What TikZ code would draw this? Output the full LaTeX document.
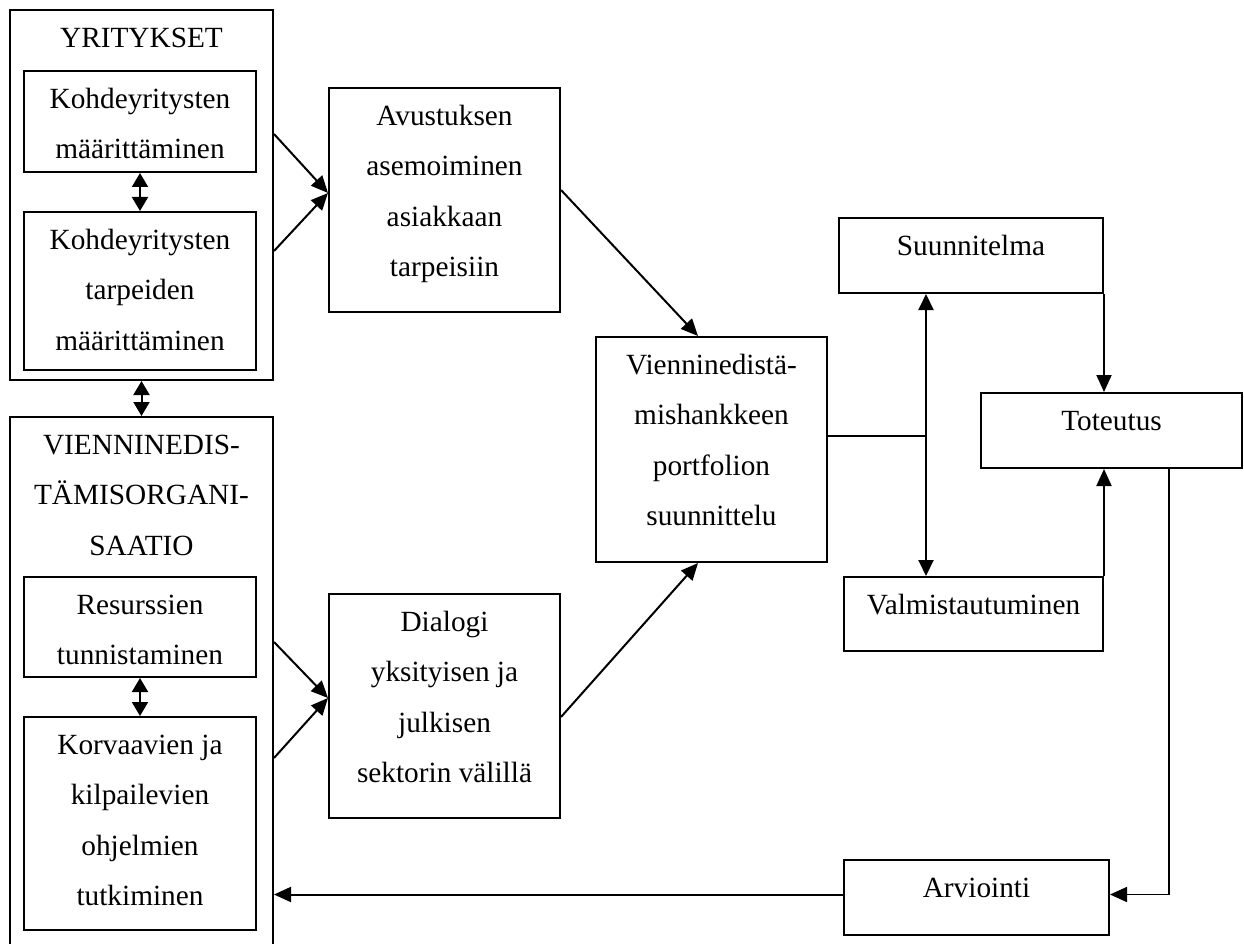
\documentclass[tikz,border=0pt]{standalone}
\usepackage{fontspec}
\setmainfont{Liberation Serif}
\usetikzlibrary{arrows.meta,calc}
\begin{document}
\begin{tikzpicture}[x=1pt,y=-1pt,
  bx/.style 2 args={draw,line width=2pt,inner sep=0pt,minimum width=#1,minimum height=#2},
  lbl/.style={font=\fontsize{29.3}{50.5}\selectfont,align=center,inner sep=0pt,anchor=north},
  arr/.style={line width=2pt,-{Triangle[length=17pt,width=15pt]}},
  tharr/.style={line width=1.6pt,-{Triangle[length=17pt,width=15pt]}},
  darr/.style={line width=2pt,{Triangle[length=14pt,width=16pt]}-{Triangle[length=14pt,width=16pt]}},
  larr/.style={line width=2pt,{Triangle[length=16pt,width=15pt]}-{Triangle[length=16pt,width=15pt]}},
  thinl/.style={line width=1.6pt}
]
\useasboundingbox (0,0) rectangle (1244,944);
\fill[white] (0,0) rectangle (1244,944);

% boxes
\node[bx={263pt}{370pt}] (yrit) at (141.5,195) {};
\node[bx={232pt}{101pt}] (kohde1) at (140,121.5) {};
\node[bx={232pt}{158pt}] (kohde2) at (140,291) {};
\node[bx={263pt}{533pt}] (vienorg) at (141.5,683.5) {};
\node[bx={232pt}{100pt}] (resurs) at (140,627) {};
\node[bx={232pt}{213pt}] (korv) at (140,823.5) {};
\node[bx={231pt}{224pt}] (avust) at (444.5,200) {};
\node[bx={231pt}{224pt}] (dialogi) at (444.5,706) {};
\node[bx={231pt}{225pt}] (viennin) at (711.5,449.5) {};
\node[bx={264pt}{75pt}] (suunn) at (971,255.5) {};
\node[bx={261pt}{75pt}] (toteutus) at (1111.5,430.5) {};
\node[bx={259pt}{74pt}] (valmist) at (973.5,614) {};
\node[bx={265pt}{75pt}] (arvi) at (976.5,897.5) {};

% texts
\node[lbl] (tyrit) at ($(yrit.north)+(0,2.5)$) {\strut YRITYKSET};
\node[lbl] (tkohde1) at ($(kohde1.north)+(0,2.5)$) {\strut Kohdeyritysten\\määrittäminen};
\node[lbl] (tkohde2) at ($(kohde2.north)+(0,2.5)$) {\strut Kohdeyritysten\\tarpeiden\\määrittäminen};
\node[lbl] (tvienorg) at ($(vienorg.north)+(0,2.5)$) {\strut VIENNINEDIS-\\TÄMISORGANI-\\SAATIO};
\node[lbl] (tresurs) at ($(resurs.north)+(0,2.5)$) {\strut Resurssien\\tunnistaminen};
\node[lbl] (tkorv) at ($(korv.north)+(0,2.5)$) {\strut Korvaavien ja\\kilpailevien\\ohjelmien\\tutkiminen};
\node[lbl] (tavust) at ($(avust.north)+(0,2.5)$) {\strut Avustuksen\\asemoiminen\\asiakkaan\\tarpeisiin};
\node[lbl] (tdialogi) at ($(dialogi.north)+(0,2.5)$) {\strut Dialogi\\yksityisen ja\\julkisen\\sektorin välillä};
\node[lbl] (tviennin) at ($(viennin.north)+(0,2.5)$) {\strut Vienninedistä-\\mishankkeen\\portfolion\\suunnittelu};
\node[lbl] (tsuunn) at ($(suunn.north)+(0,2.5)$) {\strut Suunnitelma};
\node[lbl] (ttoteutus) at ($(toteutus.north)+(0,2.5)$) {\strut Toteutus};
\node[lbl] (tvalmist) at ($(valmist.north)+(0,2.5)$) {\strut Valmistautuminen};
\node[lbl] (tarvi) at ($(arvi.north)+(0,2.5)$) {\strut Arviointi};

% connectors
\draw[darr] (kohde1) -- (kohde2);
\draw[darr] (yrit) -- (vienorg);
\draw[darr] (resurs) -- (korv);
\draw[arr] ([yshift=-125pt]yrit.north east) -- ([yshift=7pt]avust.west);
\draw[arr] ([yshift=-242pt]yrit.north east) -- ([yshift=7pt]avust.west);
\draw[arr] ([yshift=-226pt]vienorg.north east) -- ([yshift=8pt]dialogi.west);
\draw[arr] ([yshift=-342pt]vienorg.north east) -- ([yshift=8pt]dialogi.west);
\draw[arr] ([yshift=10pt]avust.east) -- ([xshift=-13.5pt]viennin.north);
\draw[arr] ([yshift=-11pt]dialogi.east) -- ([xshift=-13.5pt]viennin.south);
\coordinate (j) at ($([yshift=13.5pt]viennin.east)+(98,0)$);
\draw[thinl] ([yshift=13.5pt]viennin.east) -- (j);
\draw[larr] (j |- suunn.south) -- (j |- valmist.north);
\draw[arr] (suunn.south east) -- (suunn.south east |- toteutus.north);
\draw[arr] (valmist.north east) -- (valmist.north east |- toteutus.south);
\draw[tharr] ([xshift=57.5pt]toteutus.south) |- ([yshift=3pt]arvi.east);
\draw[arr] ([yshift=3pt]arvi.west) -- ([yshift=3pt]arvi.west -| vienorg.east);
\end{tikzpicture}
\end{document}
